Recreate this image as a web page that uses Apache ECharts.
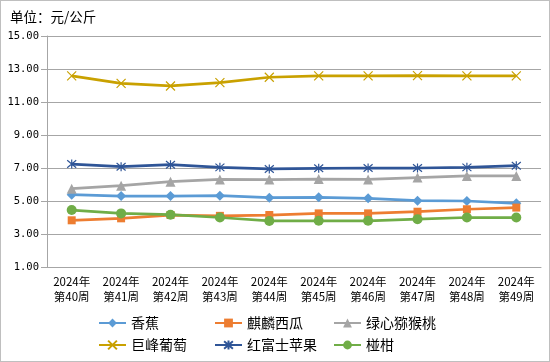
<!DOCTYPE html>
<html><head><meta charset="utf-8">
<script src="https://cdn.jsdelivr.net/npm/echarts@6/dist/echarts.min.js"></script>
<style>
html,body{margin:0;padding:0;background:#fff;}
#c{width:548px;height:360px;border:1px solid #BFBFBF;}
</style></head>
<body><div id="c"></div>
<script>
const categories = ['2024年\n第40周','2024年\n第41周','2024年\n第42周','2024年\n第43周','2024年\n第44周','2024年\n第45周','2024年\n第46周','2024年\n第47周','2024年\n第48周','2024年\n第49周'];
const banana = [5.38, 5.30, 5.30, 5.32, 5.20, 5.22, 5.16, 5.02, 5.00, 4.86];
const watermelon = [3.83, 3.95, 4.15, 4.10, 4.15, 4.25, 4.25, 4.35, 4.50, 4.60];
const kiwi = [5.75, 5.93, 6.17, 6.31, 6.30, 6.33, 6.31, 6.42, 6.52, 6.52];
const grape = [12.58, 12.13, 11.97, 12.17, 12.50, 12.58, 12.58, 12.60, 12.58, 12.58];
const apple = [7.24, 7.08, 7.20, 7.04, 6.94, 6.98, 7.00, 7.00, 7.04, 7.14];
const orange = [4.45, 4.25, 4.17, 4.00, 3.79, 3.80, 3.80, 3.90, 4.00, 4.00];
const yTicks = [1, 3, 5, 7, 9, 11, 13, 15];
const names = ['香蕉','麒麟西瓜','绿心猕猴桃','巨峰葡萄','红富士苹果','椪柑'];

const font = "'Noto Sans CJK SC', sans-serif";
const X_PATH = 'path://M0,0L10,10M10,0L0,10';
const STAR_PATH = 'path://M0,0L10,10M10,0L0,10M5,-1L5,11';
const defs = [
  {name: names[0], data: banana, color: '#5B9BD5', symbol: 'diamond', size: 10},
  {name: names[1], data: watermelon, color: '#ED7D31', symbol: 'rect', size: 8},
  {name: names[2], data: kiwi, color: '#A5A5A5', symbol: 'triangle', size: 10},
  {name: names[3], data: grape, color: '#C9A100', symbol: X_PATH, size: 9, stroke: true},
  {name: names[4], data: apple, color: '#2F5597', symbol: STAR_PATH, size: 9, stroke: true},
  {name: names[5], data: orange, color: '#70AD47', symbol: 'circle', size: 10}
];
const series = defs.map(d => ({
  name: d.name, type: 'line', data: d.data,
  symbol: d.symbol, symbolSize: d.size, showSymbol: true,
  lineStyle: {color: d.color, width: 2.75},
  itemStyle: d.stroke ? {color: 'rgba(0,0,0,0)', borderColor: d.color, borderWidth: 1.2}
                      : {color: d.color, borderColor: d.color, borderWidth: 0},
  emphasis: {disabled: true},
  animation: false
}));
const legendPos = [[97,315],[213,315],[332,315],[97,337],[213,337],[332,337]];
const legends = defs.map((d, i) => ({
  data: [d.name], left: legendPos[i][0], top: legendPos[i][1],
  itemWidth: 27, itemHeight: 11, itemGap: 5, padding: 0,
  textStyle: {fontFamily: font, fontSize: 14, color: '#000'},
  selectedMode: false
}));
const chart = echarts.init(document.getElementById('c'));
chart.setOption({
  animation: false,
  title: {text: '单位：元/公斤', left: 9, top: 9, padding: 0,
    textStyle: {fontFamily: font, fontSize: 13.5, fontWeight: 'normal', color: '#000'}},
  grid: {left: 46, right: 8, top: 35, bottom: 94, containLabel: false},
  legend: legends,
  xAxis: {type: 'category', data: categories, boundaryGap: true,
    axisLine: {lineStyle: {color: '#A6A6A6'}}, axisTick: {show: false},
    axisLabel: {interval: 0, color: '#000', fontFamily: font, fontSize: 11.5, lineHeight: 15, margin: 7}},
  yAxis: {type: 'value', min: yTicks[0], max: yTicks[yTicks.length-1], interval: 2,
    axisLine: {show: true, lineStyle: {color: '#A6A6A6'}},
    axisTick: {show: true, length: 6, lineStyle: {color: '#A6A6A6'}},
    splitLine: {lineStyle: {color: '#A6A6A6'}},
    axisLabel: {color: '#000', fontFamily: "'DejaVu Sans Mono', monospace", fontSize: 10.5, margin: 8,
      formatter: v => v.toFixed(2)}},
  series: series
});
</script></body></html>
